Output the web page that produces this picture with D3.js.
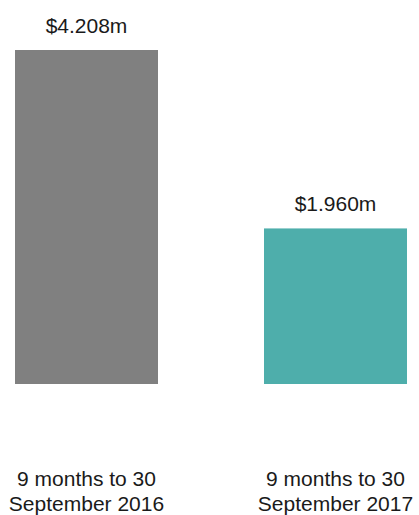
<!DOCTYPE html>
<html>
<head>
<meta charset="utf-8">
<script src="https://cdn.jsdelivr.net/npm/d3@7"></script>
<style>
  body { margin: 0; background: #fff; }
  text { font-family: "Liberation Sans", Arial, sans-serif; fill: #1a1a1a; }
</style>
</head>
<body>
<div id="chart"></div>
<script>
const periods = ['9 months to 30|September 2016', '9 months to 30|September 2017'];
const values = [4.208, 1.960];
const valueLabels = ['$4.208m', '$1.960m'];
const colors = ['#808080', '#4eaeab'];

const width = 419, height = 515;

const svg = d3.select('#chart').append('svg')
    .attr('width', width)
    .attr('height', height);

const x = d3.scaleBand()
    .domain(periods)
    .range([15, 407])
    .paddingInner(0.4257)
    .paddingOuter(0);

const y = d3.scaleLinear()
    .domain([0, 4.208])
    .range([384, 50]);

svg.selectAll('rect.bar')
    .data(values)
    .enter()
    .append('rect')
    .attr('class', 'bar')
    .attr('x', (d, i) => x(periods[i]))
    .attr('y', d => y(d))
    .attr('width', x.bandwidth())
    .attr('height', d => y(0) - y(d))
    .attr('fill', (d, i) => colors[i]);

// value labels above bars
svg.selectAll('text.value')
    .data(values)
    .enter()
    .append('text')
    .attr('class', 'value')
    .attr('x', (d, i) => x(periods[i]) + x.bandwidth() / 2)
    .attr('y', d => y(d) - 17)
    .attr('text-anchor', 'middle')
    .style('font-size', '21px')
    .text((d, i) => valueLabels[i]);

// category labels (two lines)
const cat = svg.selectAll('text.cat')
    .data(periods)
    .enter()
    .append('text')
    .attr('class', 'cat')
    .attr('text-anchor', 'middle')
    .style('font-size', '21px');

cat.selectAll('tspan')
    .data(d => d.split('|').map(line => ({ line, key: d })))
    .enter()
    .append('tspan')
    .attr('x', d => x(d.key) + x.bandwidth() / 2)
    .attr('y', (d, i) => 486 + i * 24.5)
    .text(d => d.line);
</script>
</body>
</html>
